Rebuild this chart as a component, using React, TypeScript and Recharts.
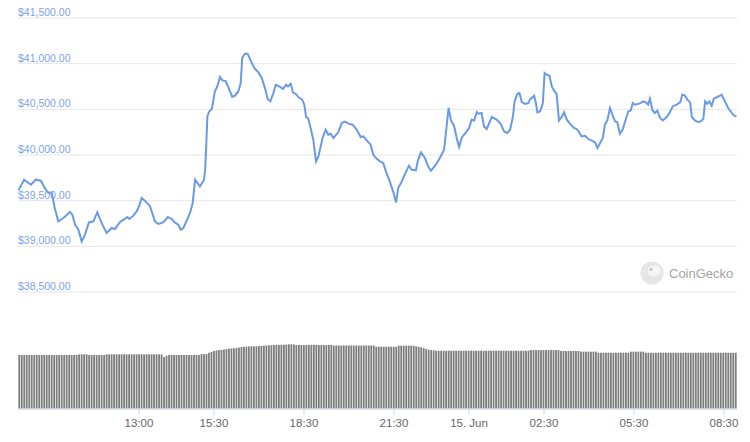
import { LineChart, Line, XAxis, YAxis, CartesianGrid, BarChart, Bar } from "recharts"

// hours since 14 Jun 00:00
const priceTimes = [
  8.98, 9.17, 9.4, 9.56, 9.73, 9.89, 9.98, 10.09, 10.18, 10.31, 10.48, 10.7, 10.78, 10.87, 10.98, 11.09,
  11.2, 11.33, 11.48, 11.61, 11.78, 11.92, 12.09, 12.2, 12.37, 12.53, 12.61, 12.68, 12.81, 12.92, 13.0, 13.09,
  13.22, 13.37, 13.44, 13.53, 13.64, 13.81, 13.96, 14.09, 14.19, 14.31, 14.39, 14.48, 14.59, 14.7, 14.79, 14.87,
  15.03, 15.17, 15.21, 15.28, 15.34, 15.43, 15.53, 15.61, 15.7, 15.78, 15.89, 16.01, 16.11, 16.2, 16.31, 16.39,
  16.44, 16.53, 16.62, 16.72, 16.84, 16.98, 17.09, 17.2, 17.29, 17.38, 17.48, 17.56, 17.7, 17.8, 17.9, 17.97,
  18.06, 18.13, 18.23, 18.31, 18.44, 18.51, 18.57, 18.64, 18.72, 18.81, 18.9, 18.98, 19.12, 19.22, 19.31, 19.39,
  19.48, 19.64, 19.76, 19.87, 19.98, 20.12, 20.26, 20.39, 20.48, 20.59, 20.72, 20.81, 20.9, 21.03, 21.14, 21.23,
  21.37, 21.48, 21.57, 21.64, 21.76, 21.89, 22.0, 22.09, 22.23, 22.29, 22.4, 22.53, 22.64, 22.73, 22.87, 23.01,
  23.17, 23.23, 23.32, 23.4, 23.5, 23.59, 23.67, 23.76, 23.9, 24.0, 24.09, 24.17, 24.26, 24.32, 24.42, 24.5,
  24.59, 24.76, 24.92, 25.06, 25.17, 25.28, 25.37, 25.46, 25.52, 25.61, 25.68, 25.76, 25.87, 25.98, 26.03, 26.17,
  26.23, 26.28, 26.37, 26.46, 26.52, 26.59, 26.68, 26.76, 26.83, 26.92, 27.0, 27.09, 27.17, 27.26, 27.37, 27.5,
  27.59, 27.67, 27.75, 27.86, 28.01, 28.09, 28.2, 28.28, 28.37, 28.46, 28.53, 28.61, 28.7, 28.79, 28.87, 28.94,
  29.03, 29.12, 29.23, 29.31, 29.39, 29.46, 29.53, 29.68, 29.81, 29.9, 29.97, 30.03, 30.12, 30.19, 30.28, 30.37,
  30.46, 30.59, 30.7, 30.79, 30.92, 31.04, 31.11, 31.19, 31.28, 31.37, 31.43, 31.53, 31.64, 31.72, 31.81, 31.87,
  31.94, 32.01, 32.09, 32.16, 32.27, 32.37, 32.42, 32.53, 32.64, 32.76, 32.83, 32.92,
]

const priceValues = [
  39613, 39730, 39675, 39730, 39719, 39620, 39584, 39591, 39437, 39273, 39310, 39376, 39347, 39237, 39182, 39054,
  39128, 39262, 39273, 39372, 39237, 39146, 39201, 39190, 39267, 39300, 39321, 39300, 39336, 39383, 39437, 39529,
  39492, 39437, 39365, 39273, 39245, 39262, 39321, 39300, 39262, 39237, 39182, 39201, 39281, 39365, 39475, 39730,
  39656, 39730, 39858, 40423, 40477, 40507, 40696, 40751, 40854, 40817, 40810, 40715, 40635, 40649, 40696, 40788,
  41062, 41109, 41109, 41036, 40953, 40904, 40843, 40734, 40613, 40587, 40679, 40770, 40745, 40723, 40770, 40751,
  40781, 40685, 40668, 40635, 40606, 40551, 40416, 40401, 40296, 40168, 39930, 39985, 40186, 40277, 40222, 40233,
  40186, 40248, 40350, 40365, 40343, 40332, 40277, 40197, 40204, 40160, 40113, 40003, 39967, 39930, 39913, 39821,
  39700, 39591, 39481, 39639, 39711, 39810, 39883, 39839, 39832, 39930, 40029, 39967, 39875, 39828, 39883, 39956,
  40058, 40241, 40515, 40379, 40321, 40186, 40088, 40193, 40248, 40296, 40387, 40376, 40471, 40452, 40460, 40313,
  40285, 40416, 40387, 40340, 40258, 40241, 40277, 40416, 40587, 40668, 40679, 40580, 40558, 40569, 40606, 40649,
  40569, 40467, 40477, 40562, 40898, 40879, 40868, 40751, 40707, 40668, 40376, 40416, 40467, 40387, 40340, 40296,
  40285, 40248, 40204, 40211, 40168, 40160, 40138, 40077, 40131, 40186, 40332, 40379, 40515, 40430, 40368, 40361,
  40233, 40277, 40394, 40477, 40488, 40569, 40551, 40562, 40587, 40576, 40551, 40617, 40488, 40460, 40485, 40405,
  40379, 40416, 40471, 40532, 40551, 40576, 40660, 40653, 40606, 40576, 40416, 40379, 40361, 40368, 40394, 40587,
  40562, 40587, 40540, 40617, 40635, 40649, 40660, 40587, 40515, 40460, 40430, 40423,
]

const priceTicks = [38500, 39000, 39500, 40000, 40500, 41000, 41500]
const timeTicks = [13, 15.5, 18.5, 21.5, 24, 26.5, 29.5, 32.5]
const timeTickLabels = ["13:00", "15:30", "18:30", "21:30", "15. Jun", "02:30", "05:30", "08:30"]

// 24h volume (billion $), one bar per 5 minutes, one row per hour
const volumeValues = [
  40.5, 40.5, 40.5, 40.5, 40.5, 40.5, 40.5, 40.5, 40.5, 40.5, 40.5, 40.5,
  40.5, 40.5, 40.5, 40.5, 40.5, 40.5, 40.5, 40.5, 40.5, 40.5, 40.5, 40.5,
  41.0, 41.0, 41.0, 41.0, 40.5, 40.5, 40.5, 40.5, 40.5, 40.5, 40.5, 41.0,
  41.0, 41.0, 41.0, 41.0, 41.0, 41.0, 41.0, 41.0, 41.0, 41.0, 41.0, 41.0,
  41.0, 41.0, 41.0, 41.0, 41.0, 41.0, 41.0, 41.0, 41.0, 41.0, 39.0, 40.0,
  40.5, 40.5, 40.5, 40.5, 40.5, 40.5, 40.5, 40.5, 40.5, 40.5, 40.5, 40.5,
  40.5, 41.2, 41.2, 41.2, 42.2, 42.8, 43.5, 43.9, 44.2, 44.3, 44.6, 45.0,
  45.2, 45.4, 45.6, 45.8, 46.1, 46.5, 46.7, 46.8, 46.9, 47.0, 47.0, 47.1,
  47.2, 47.3, 47.5, 47.7, 47.8, 47.8, 47.9, 48.0, 48.1, 48.2, 48.2, 48.3,
  48.5, 48.5, 48.4, 48.0, 48.1, 48.0, 48.0, 47.9, 48.0, 48.0, 48.1, 48.0,
  48.0, 48.0, 48.0, 47.9, 48.0, 48.0, 47.6, 47.6, 47.6, 47.6, 47.6, 47.6,
  47.6, 47.6, 47.6, 47.6, 47.6, 47.6, 47.6, 47.6, 47.6, 47.6, 47.6, 46.7,
  46.7, 46.7, 46.7, 46.7, 46.7, 46.7, 46.7, 46.7, 47.5, 47.5, 47.5, 47.5,
  47.5, 47.5, 47.5, 47.0, 46.7, 46.2, 45.7, 45.0, 44.5, 44.2, 44.0, 43.7,
  43.7, 43.7, 43.7, 43.7, 43.7, 43.7, 43.7, 43.7, 43.7, 43.7, 43.7, 43.7,
  43.7, 43.7, 43.7, 43.7, 43.7, 43.7, 43.7, 43.7, 43.7, 43.7, 43.7, 43.7,
  43.7, 43.7, 43.7, 43.7, 43.7, 43.7, 43.7, 43.7, 43.7, 43.7, 43.7, 43.7,
  43.7, 44.2, 44.2, 44.2, 44.2, 44.2, 44.2, 44.2, 44.2, 44.2, 44.2, 44.2,
  44.2, 43.5, 43.5, 43.5, 43.5, 43.5, 43.5, 43.5, 43.5, 43.0, 43.0, 43.0,
  43.0, 43.0, 43.0, 43.0, 42.2, 42.2, 42.2, 42.2, 42.2, 42.2, 42.2, 42.2,
  42.2, 42.2, 42.2, 42.2, 42.2, 43.0, 43.0, 43.0, 43.0, 43.0, 43.0, 42.2,
  42.2, 42.2, 42.2, 42.2, 42.2, 42.2, 42.2, 42.2, 42.2, 42.2, 42.2, 42.2,
  42.2, 42.2, 42.2, 42.2, 42.2, 42.2, 42.2, 42.2, 42.2, 42.2, 42.2, 42.2,
  42.2, 42.2, 42.2, 42.2, 42.2, 42.2, 42.2, 42.2, 42.2, 42.2, 42.2, 42.2,
]

const FONT = "'Liberation Sans', Arial, sans-serif"

const priceData = priceTimes.map((t, i) => ({ t, price: priceValues[i] }))
const volumeData = volumeValues.map((v, i) => ({ i, v }))

const fmtPrice = (v: number) =>
  "$" + v.toLocaleString("en-US", { minimumFractionDigits: 2, maximumFractionDigits: 2 })

function PriceTick(props: any) {
  const { y, payload } = props
  return (
    <text x={18} y={y - 2} fill="#7da3e8" fontSize={10.5} fontFamily={FONT}>
      {fmtPrice(payload.value)}
    </text>
  )
}

function TimeTick(props: any) {
  const { x, payload } = props
  const label = timeTickLabels[timeTicks.indexOf(payload.value)]
  return (
    <text x={x} y={427} textAnchor="middle" fill="#666666" fontSize={11.5} fontFamily={FONT}>
      {label}
    </text>
  )
}

function VolumeBar(props: any) {
  const { x, y, width, height } = props
  const cx = x + width / 2
  return <rect x={cx - 0.9} y={y} width={1.8} height={height} fill="#7d7d7d" />
}

export default function App() {
  return (
    <div style={{ position: "absolute", left: 0, top: 0, width: 750, height: 442, background: "#fff" }}>
      <div style={{ position: "absolute", left: 0, top: 0 }}>
        <BarChart width={750} height={442} data={volumeData} margin={{ top: 329, right: 13, bottom: 33, left: 18 }} barCategoryGap={0.75}>
          <XAxis dataKey="i" hide />
          <YAxis hide domain={[0, 60]} />
          <Bar dataKey="v" fill="#7d7d7d" shape={<VolumeBar />} isAnimationActive={false} />
        </BarChart>
      </div>
      <div style={{ position: "absolute", left: 0, top: 0 }}>
        <LineChart width={750} height={442} data={priceData} margin={{ top: 18, right: 13, bottom: 3, left: 0 }}>
          <CartesianGrid vertical={false} stroke="#e6e6e6" />
          <XAxis
            dataKey="t"
            type="number"
            domain={[8.967, 32.933]}
            allowDataOverflow
            ticks={timeTicks}
            tick={<TimeTick />}
            tickSize={6}
            height={30}
            axisLine={{ stroke: "#ccd6eb" }}
            tickLine={{ stroke: "#ccd6eb" }}
          />
          {/* lower bound extends the price scale down to the axis line at y=409 */}
          <YAxis
            type="number"
            domain={[37219, 41500]}
            allowDataOverflow
            ticks={priceTicks}
            interval={0}
            width={18}
            axisLine={false}
            tickLine={false}
            tick={<PriceTick />}
          />
          <Line
            type="linear"
            dataKey="price"
            stroke="#6a9ae6"
            strokeWidth={2}
            dot={false}
            isAnimationActive={false}
          />
        </LineChart>
      </div>
      <svg width={750} height={442} style={{ position: "absolute", left: 0, top: 0, pointerEvents: "none" }}>
        <circle cx={652} cy={273} r={11.5} fill="#e6e6e6" />
        <ellipse cx={654} cy={271} rx={6.5} ry={5.5} fill="#f5f5f5" />
        <circle cx={651} cy={269.5} r={1.4} fill="#bdbdbd" />
        <text x={669} y={277.5} fill="#a3a3a3" fontSize={13} fontFamily={FONT}>
          CoinGecko
        </text>
      </svg>
    </div>
  )
}
